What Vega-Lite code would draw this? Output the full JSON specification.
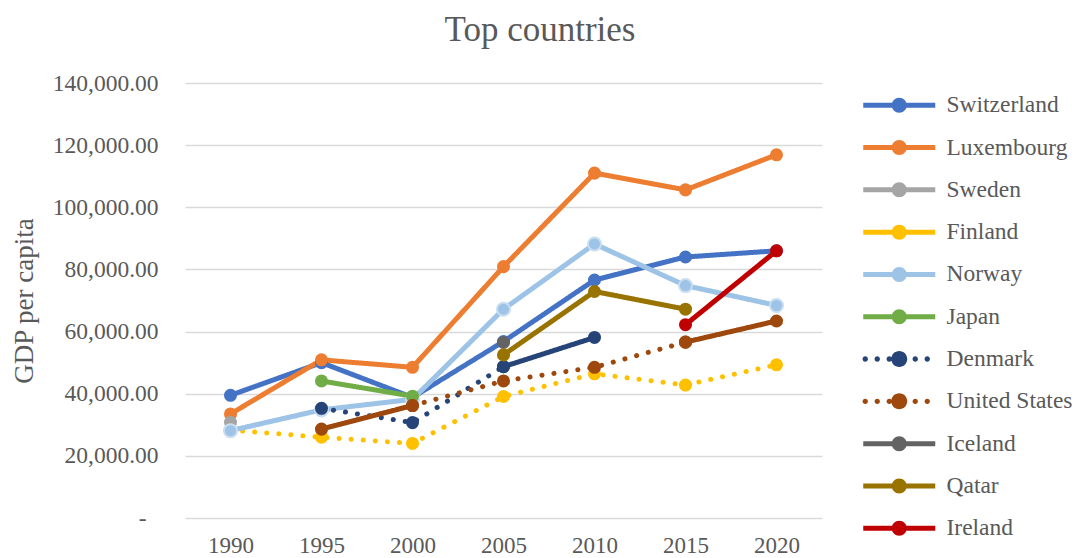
{
  "$schema": "https://vega.github.io/schema/vega-lite/v6.json",
  "width": 637,
  "height": 435,
  "autosize": {"type": "none"},
  "padding": {"left": 185, "top": 83, "right": 258, "bottom": 40},
  "background": "white",
  "title": {"text": "Top countries", "fontSize": 35, "font": "Liberation Serif, Times New Roman, DejaVu Serif, serif", "fontWeight": "normal", "color": "#595959", "anchor": "middle", "dx": 36.5, "offset": 23},
  "data": {"values": [
    {"country": "Switzerland", "seg": "CH", "style": "solid", "year": 1990, "gdp": 39500},
    {"country": "Switzerland", "seg": "CH", "style": "solid", "year": 1995, "gdp": 50000},
    {"country": "Switzerland", "seg": "CH", "style": "solid", "year": 2000, "gdp": 38800},
    {"country": "Switzerland", "seg": "CH", "style": "solid", "year": 2005, "gdp": 56800},
    {"country": "Switzerland", "seg": "CH", "style": "solid", "year": 2010, "gdp": 76600},
    {"country": "Switzerland", "seg": "CH", "style": "solid", "year": 2015, "gdp": 84000},
    {"country": "Switzerland", "seg": "CH", "style": "solid", "year": 2020, "gdp": 86000},
    {"country": "Luxembourg", "seg": "LU", "style": "solid", "year": 1990, "gdp": 33500},
    {"country": "Luxembourg", "seg": "LU", "style": "solid", "year": 1995, "gdp": 50900},
    {"country": "Luxembourg", "seg": "LU", "style": "solid", "year": 2000, "gdp": 48500},
    {"country": "Luxembourg", "seg": "LU", "style": "solid", "year": 2005, "gdp": 80900},
    {"country": "Luxembourg", "seg": "LU", "style": "solid", "year": 2010, "gdp": 111000},
    {"country": "Luxembourg", "seg": "LU", "style": "solid", "year": 2015, "gdp": 105600},
    {"country": "Luxembourg", "seg": "LU", "style": "solid", "year": 2020, "gdp": 116900},
    {"country": "Sweden", "seg": "SE", "style": "solid", "year": 1990, "gdp": 30800},
    {"country": "Finland", "seg": "FI", "style": "dot", "year": 1990, "gdp": 28300},
    {"country": "Finland", "seg": "FI", "style": "dot", "year": 1995, "gdp": 26000},
    {"country": "Finland", "seg": "FI", "style": "dot", "year": 2000, "gdp": 24000},
    {"country": "Finland", "seg": "FI", "style": "dot", "year": 2005, "gdp": 39100},
    {"country": "Finland", "seg": "FI", "style": "dot", "year": 2010, "gdp": 46400},
    {"country": "Finland", "seg": "FI", "style": "dot", "year": 2015, "gdp": 42800},
    {"country": "Finland", "seg": "FI", "style": "dot", "year": 2020, "gdp": 49300},
    {"country": "Norway", "seg": "NO", "style": "solid", "year": 1990, "gdp": 28100},
    {"country": "Norway", "seg": "NO", "style": "solid", "year": 1995, "gdp": 34800},
    {"country": "Norway", "seg": "NO", "style": "solid", "year": 2000, "gdp": 38200},
    {"country": "Norway", "seg": "NO", "style": "solid", "year": 2005, "gdp": 67200},
    {"country": "Norway", "seg": "NO", "style": "solid", "year": 2010, "gdp": 88200},
    {"country": "Norway", "seg": "NO", "style": "solid", "year": 2015, "gdp": 74800},
    {"country": "Norway", "seg": "NO", "style": "solid", "year": 2020, "gdp": 68400},
    {"country": "Japan", "seg": "JP", "style": "solid", "year": 1995, "gdp": 44100},
    {"country": "Japan", "seg": "JP", "style": "solid", "year": 2000, "gdp": 39200},
    {"country": "Denmark", "seg": "DK1", "style": "dot", "year": 1995, "gdp": 35300},
    {"country": "Denmark", "seg": "DK1", "style": "dot", "year": 2000, "gdp": 30700},
    {"country": "Denmark", "seg": "DK1", "style": "dot", "year": 2005, "gdp": 48700},
    {"country": "Denmark", "seg": "DK2", "style": "solid", "year": 2005, "gdp": 48700},
    {"country": "Denmark", "seg": "DK2", "style": "solid", "year": 2010, "gdp": 58100},
    {"country": "United States", "seg": "US1", "style": "solid", "year": 1995, "gdp": 28600},
    {"country": "United States", "seg": "US1", "style": "solid", "year": 2000, "gdp": 36200},
    {"country": "United States", "seg": "US2", "style": "dot", "year": 2000, "gdp": 36200},
    {"country": "United States", "seg": "US2", "style": "dot", "year": 2005, "gdp": 44100},
    {"country": "United States", "seg": "US2", "style": "dot", "year": 2010, "gdp": 48500},
    {"country": "United States", "seg": "US2", "style": "dot", "year": 2015, "gdp": 56600},
    {"country": "United States", "seg": "US3", "style": "solid", "year": 2015, "gdp": 56600},
    {"country": "United States", "seg": "US3", "style": "solid", "year": 2020, "gdp": 63400},
    {"country": "Iceland", "seg": "IS", "style": "solid", "year": 2005, "gdp": 56500},
    {"country": "Qatar", "seg": "QA", "style": "solid", "year": 2005, "gdp": 52500},
    {"country": "Qatar", "seg": "QA", "style": "solid", "year": 2010, "gdp": 72900},
    {"country": "Qatar", "seg": "QA", "style": "solid", "year": 2015, "gdp": 67200},
    {"country": "Ireland", "seg": "IE", "style": "solid", "year": 2015, "gdp": 62200},
    {"country": "Ireland", "seg": "IE", "style": "solid", "year": 2020, "gdp": 86000}
  ]},
  "encoding": {
    "x": {"field": "year", "type": "ordinal", "axis": {"title": null, "labelAngle": 0, "ticks": false, "domain": false, "grid": false, "labelPadding": 16, "labelFontSize": 23, "labelColor": "#595959", "labelFont": "Liberation Serif, Times New Roman, DejaVu Serif, serif"}},
    "y": {"field": "gdp", "type": "quantitative", "scale": {"domain": [0, 140000], "nice": false, "zero": true},
      "axis": {"title": "GDP per capita", "titleFontSize": 27, "titleColor": "#595959", "titleFontWeight": "normal", "titleFont": "Liberation Serif, Times New Roman, DejaVu Serif, serif", "titlePadding": 14,
        "values": [0, 20000, 40000, 60000, 80000, 100000, 120000, 140000],
        "labelExpr": "datum.value === 0 ? '-' : format(datum.value, ',.2f')",
        "labelFontSize": 23.5, "labelColor": "#595959", "labelFont": "Liberation Serif, Times New Roman, DejaVu Serif, serif",
        "labelPadding": {"condition": {"test": "datum.value === 0", "value": 39}, "value": 27},
        "ticks": false, "domain": false, "grid": true, "gridColor": "#d9d9d9", "gridWidth": 1.5}},
    "color": {"field": "country", "type": "nominal",
      "scale": {"domain": ["Switzerland", "Luxembourg", "Sweden", "Finland", "Norway", "Japan", "Denmark", "United States", "Iceland", "Qatar", "Ireland"],
        "range": ["#4472C4", "#ED7D31", "#A5A5A5", "#FFC000", "#9DC3E6", "#70AD47", "#264478", "#9E480E", "#636363", "#997300", "#C00000"]},
      "legend": {"orient": "none", "legendX": 702.5, "legendY": 10.5, "title": null, "padding": 0,
        "symbolType": "M-3.6,-0.25H3.6V0.25H-3.6Z M-0.75,0A0.75,0.75 0 1,1 0.75,0A0.75,0.75 0 1,1 -0.75,0Z",
        "symbolSize": 400, "symbolStrokeWidth": 5,
        "labelFontSize": 23.5, "labelColor": "#595959", "labelFont": "Liberation Serif, Times New Roman, DejaVu Serif, serif", "labelOffset": 35.5, "rowPadding": 17.3,
        "encode": {"symbols": {"update": {
          "fill": {"scale": "color", "field": "value"},
          "strokeWidth": {"value": 0},
          "opacity": {"value": 1},
          "shape": [
            {"test": "datum.value === 'Denmark' || datum.value === 'United States'", "value": "M-3.67,0A0.27,0.27 0 1,1 -3.13,0A0.27,0.27 0 1,1 -3.67,0Z M-2.47,0A0.27,0.27 0 1,1 -1.93,0A0.27,0.27 0 1,1 -2.47,0Z M-1.27,0A0.27,0.27 0 1,1 -0.73,0A0.27,0.27 0 1,1 -1.27,0Z M1.33,0A0.27,0.27 0 1,1 1.87,0A0.27,0.27 0 1,1 1.33,0Z M2.53,0A0.27,0.27 0 1,1 3.07,0A0.27,0.27 0 1,1 2.53,0Z M-0.8,0A0.8,0.8 0 1,1 0.8,0A0.8,0.8 0 1,1 -0.8,0Z"},
            {"value": "M-3.6,-0.25H3.6V0.25H-3.6Z M-0.75,0A0.75,0.75 0 1,1 0.75,0A0.75,0.75 0 1,1 -0.75,0Z"}
          ]
        }}}}
    }
  },
  "layer": [
    {"mark": {"type": "line", "strokeWidth": 5, "strokeCap": "round", "strokeJoin": "round"},
     "encoding": {"detail": {"field": "seg"},
       "strokeDash": {"field": "style", "type": "nominal", "scale": {"domain": ["solid", "dot"], "range": [[1, 0], [0.1, 12]]}, "legend": null}}},
    {"mark": {"type": "point", "filled": true, "size": 170, "opacity": 1, "strokeWidth": 2},
     "encoding": {"stroke": {"condition": {"test": "datum.country === 'Norway'", "value": "#c9ddf1"}, "value": "transparent"}}}
  ],
  "config": {"font": "Liberation Serif, Times New Roman, DejaVu Serif, serif", "view": {"stroke": null}}
}
